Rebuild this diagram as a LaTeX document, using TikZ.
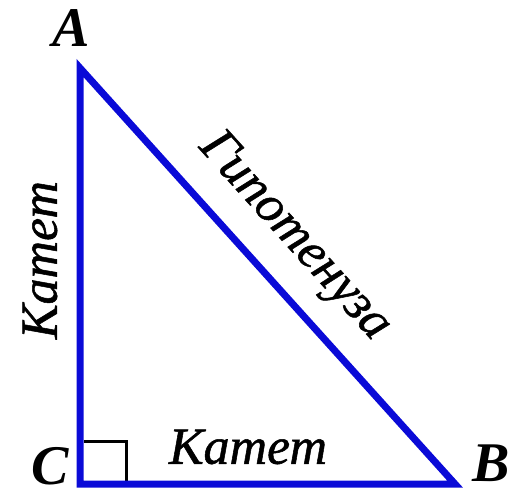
\documentclass[tikz,border=0pt]{standalone}
\usepackage{fontspec}
\setmainfont{Liberation Serif}
\newfontfamily\legfont{Liberation Serif}[ItalicFeatures={FakeBold=1}]
\usetikzlibrary{calc}
\definecolor{triblue}{RGB}{10,10,215}
\tikzset{
  leg/.style={draw=triblue, line width=7pt, line join=miter},
  vlabel/.style={font=\fontsize{56}{56}\selectfont\bfseries\itshape, inner sep=0pt},
  slabel/.style={font=\fontsize{52}{52}\selectfont\legfont\itshape, inner sep=0pt},
  rmark/.style={draw=black, line width=3pt}
}
\begin{document}
\begin{tikzpicture}[x=1pt,y=-1pt]
\useasboundingbox (0,0) rectangle (531,491);
\coordinate (A) at (80,68);
\coordinate (C) at (80,484);
\coordinate (B) at (455,484);
\draw[rmark] ($(C)+(4,-43)$) coordinate (r1) -- ++(42,0) coordinate (r2) -- ++(0,43) coordinate (r3);
\draw[leg] (A) -- (B) -- (C) -- cycle;
\node[vlabel] (lA) at (71,28) {A};
\node[vlabel] (lC) at (50,466) {C};
\node[vlabel] (lB) at (491,463) {B};
\node[slabel, rotate=90] (kl) at (40,260) {Катет};
\node[slabel] (kb) at (248,447) {Катет};
\node[slabel, rotate=-48] (hy) at (294,237) {Гипотенуза};
\end{tikzpicture}
\end{document}
